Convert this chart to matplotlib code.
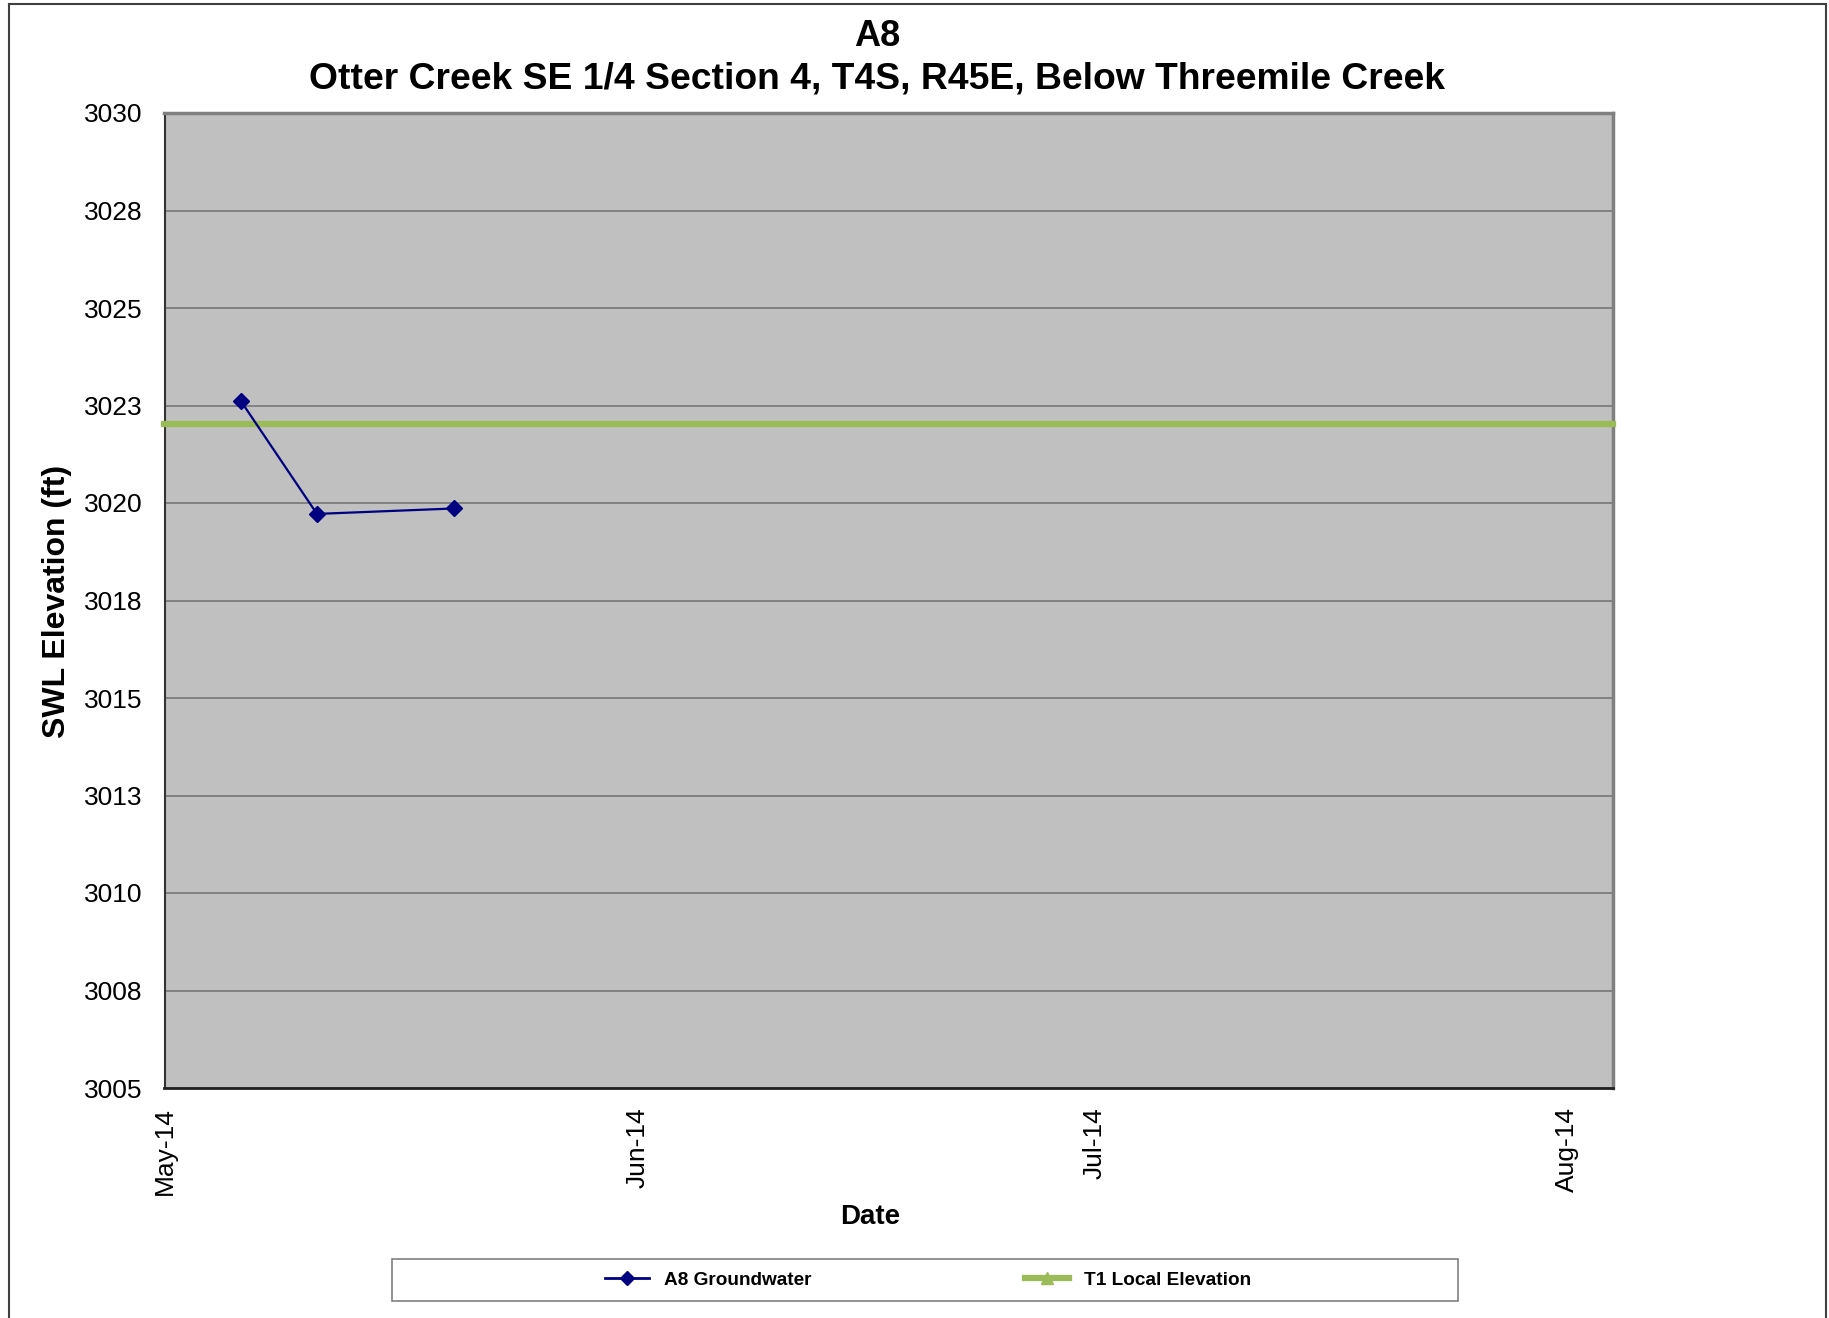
import matplotlib
matplotlib.use("Agg")
import matplotlib.pyplot as plt
import matplotlib.dates as mdates
from matplotlib.lines import Line2D
import numpy as np

plt.rcParams["font.family"] = ["Liberation Sans", "DejaVu Sans"]

# data
gw_dates = np.array(["2014-05-06", "2014-05-11", "2014-05-20"], dtype="datetime64[D]")
gw_elev = [3022.62, 3019.72, 3019.86]
t1_dates = np.array(["2014-05-01", "2014-08-04"], dtype="datetime64[D]")
t1_elev = [3022.02, 3022.02]

y_ticks = [3005, 3007.5, 3010, 3012.5, 3015, 3017.5, 3020, 3022.5, 3025, 3027.5, 3030]
x_ticks = np.array(["2014-05-01", "2014-06-01", "2014-07-01", "2014-08-01"], dtype="datetime64[D]")

W, H = 1829, 1318
fig = plt.figure(figsize=(W / 100, H / 100), dpi=100)
ax = fig.add_axes([164.5 / W, 1 - 1088 / H, (1613 - 164.5) / W, (1088 - 113) / H])
ax.set_facecolor("#C0C0C0")

ax.set_ylim(3005, 3030)
ax.set_xlim(t1_dates[0], t1_dates[1])
ax.set_yticks(y_ticks)
# Excel rounds the half-step labels up (3007.5 -> 3008)
ax.set_yticklabels([f"{v:.0f}" if v % 1 == 0 else f"{v + 0.5:.0f}" for v in y_ticks])
ax.set_xticks(x_ticks)
ax.xaxis.set_major_formatter(mdates.DateFormatter("%b-%y"))
ax.tick_params(axis="both", length=0, labelsize=19)
ax.tick_params(axis="x", pad=14, labelrotation=90)
ax.tick_params(axis="y", pad=16)
ax.grid(axis="y", color="#707070", linewidth=1.1)
ax.set_axisbelow(True)

for side in ("top", "right"):
    ax.spines[side].set_color("#808080")
    ax.spines[side].set_linewidth(2.5)
ax.spines["left"].set_color("#333333")
ax.spines["left"].set_linewidth(1.5)
ax.spines["bottom"].set_color("#222222")
ax.spines["bottom"].set_linewidth(2)

ax.plot(t1_dates, t1_elev, color="#9BBB59", linewidth=4.5, clip_on=False, zorder=3)
ax.plot(gw_dates, gw_elev, color="#000080", linewidth=1.6, marker="D",
        markersize=8, zorder=4)

# titles and axis labels
fig.text(877 / W, 1 - 36 / H, "A8", ha="center", va="center", fontsize=26, fontweight="bold")
fig.text(877 / W, 1 - 79 / H, "Otter Creek SE 1/4 Section 4, T4S, R45E, Below Threemile Creek",
         ha="center", va="center", fontsize=26.8, fontweight="bold")
fig.text(57 / W, 1 - 601 / H, "SWL Elevation (ft)", rotation=90, ha="center", va="center",
         fontsize=23, fontweight="bold")
fig.text(870 / W, 1 - 1217 / H, "Date", ha="center", va="center", fontsize=20, fontweight="bold")

# legend box and entries
fig.patches.append(plt.Rectangle((392 / W, 1 - 1301 / H), (1458 - 392) / W, (1301 - 1259) / H,
                                 transform=fig.transFigure, facecolor="white",
                                 edgecolor="#808080", linewidth=1.2))
handles = [
    Line2D([], [], color="#000080", linewidth=2, marker="D", markersize=7),
    Line2D([], [], color="#9BBB59", linewidth=4.5, marker="^", markersize=8),
]
fig.legend(handles, ["A8 Groundwater", "T1 Local Elevation"], loc="center",
           bbox_to_anchor=(928 / W, 1 - 1280 / H), ncol=2, frameon=False,
           prop={"size": 13.7, "weight": "bold"}, handlelength=2.3, handletextpad=0.8,
           columnspacing=11.2)

# chart area border (left, top, right)
fig.add_artist(Line2D([9 / W, 9 / W], [0, 1 - 4 / H], transform=fig.transFigure,
                      color="#404040", linewidth=1.5))
fig.add_artist(Line2D([9 / W, 1826 / W], [1 - 4 / H, 1 - 4 / H], transform=fig.transFigure,
                      color="#404040", linewidth=1.5))
fig.add_artist(Line2D([1826 / W, 1826 / W], [0, 1 - 4 / H], transform=fig.transFigure,
                      color="#404040", linewidth=1.5))

fig.savefig("out.png", dpi=100, facecolor="white")
